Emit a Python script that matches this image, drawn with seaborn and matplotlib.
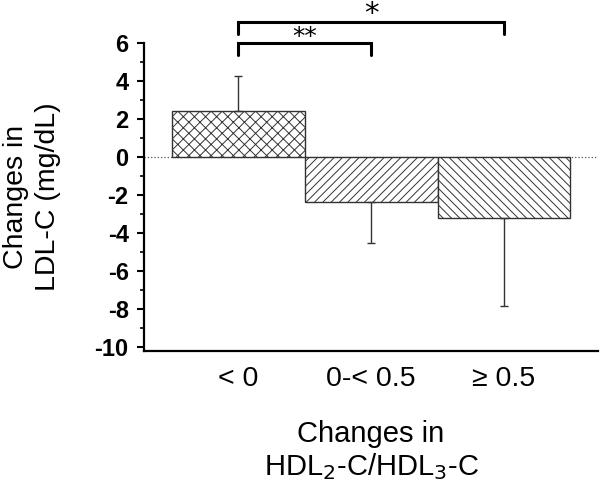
import numpy as np
import pandas as pd
import matplotlib
matplotlib.use("Agg")
import matplotlib.pyplot as plt
import seaborn as sns
from matplotlib.ticker import MultipleLocator

# Data
groups = ["< 0", "0-< 0.5", "\u2265 0.5"]
ldl_change = [2.4, -2.35, -3.2]
ldl_err = [1.85, 2.2, 4.65]
hatches = ["xxx", "////", "\\\\\\\\"]

# Significance brackets: (from group, to group, label, bracket level, label baseline, size)
brackets = [(0, 1, "**", 6.0, 5.95, 18), (0, 2, "*", 7.1, 7.08, 21)]

sns.set_theme(style="ticks")
plt.rcParams["font.family"] = ["Liberation Sans", "DejaVu Sans"]
plt.rcParams["hatch.linewidth"] = 0.7
plt.rcParams["axes.unicode_minus"] = False
plt.rcParams["text.color"] = "black"
plt.rcParams["axes.labelcolor"] = "black"
plt.rcParams["xtick.color"] = "black"
plt.rcParams["ytick.color"] = "black"
plt.rcParams["axes.edgecolor"] = "black"

df = pd.DataFrame({"group": groups, "change": ldl_change})

fig = plt.figure(figsize=(6, 4.82), dpi=100)
ax = fig.add_axes([0.24, 0.272, 0.757, 0.639])

sns.barplot(data=df, x="group", y="change", color="white", width=1.0,
            edgecolor="#333333", linewidth=1.0, ax=ax)
for bar, h in zip(ax.patches, hatches):
    bar.set_hatch(h)
    bar.set_facecolor("white")

# one-sided error bars
for i, (v, e) in enumerate(zip(ldl_change, ldl_err)):
    yerr = [[0], [e]] if v > 0 else [[e], [0]]
    ax.errorbar(i, v, yerr=yerr, fmt="none", ecolor="#333333",
                elinewidth=1.0, capsize=3, capthick=1.0)

ax.axhline(0, color="#555555", linestyle=":", linewidth=0.9, zorder=0)

ax.set_xlim(-0.71, 2.71)
ax.set_ylim(-10.2, 6)
ax.yaxis.set_major_locator(MultipleLocator(2))
ax.yaxis.set_minor_locator(MultipleLocator(1))
ax.spines["top"].set_visible(False)
ax.spines["right"].set_visible(False)
ax.spines["left"].set_bounds(-10.2, 6)
ax.spines["left"].set_linewidth(1.6)
ax.spines["bottom"].set_linewidth(1.6)
ax.tick_params(axis="y", which="major", length=5, width=1.5, labelsize=17,
               pad=6)
ax.tick_params(axis="y", which="minor", length=3, width=1.2)
ax.tick_params(axis="x", length=0, labelsize=20.5, pad=11)
for lab in ax.get_yticklabels():
    lab.set_fontweight("bold")

ax.set_xlabel("Changes in\nHDL$_2$-C/HDL$_3$-C", fontsize=21, labelpad=20,
              linespacing=1.15)
ax.set_ylabel("Changes in\nLDL-C (mg/dL)", fontsize=20.5, labelpad=24,
              linespacing=1.3)

# significance brackets above the bars
for a, b, txt, lvl, tl, fs in brackets:
    ax.plot([a, a, b, b], [lvl - 0.65, lvl, lvl, lvl - 0.65], color="black",
            linewidth=2.2, clip_on=False, solid_joinstyle="miter")
    ax.text((a + b) / 2, tl, txt, ha="center", va="baseline",
            fontsize=fs, family="DejaVu Sans", clip_on=False)

fig.savefig("out.png", dpi=100)
